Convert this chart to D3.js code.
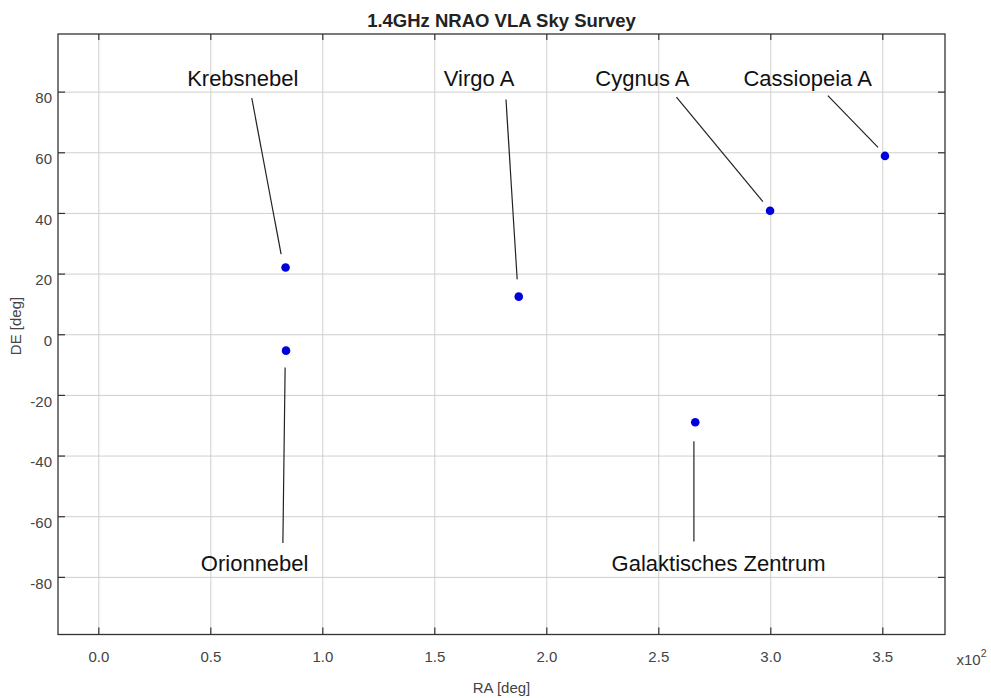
<!DOCTYPE html>
<html>
<head>
<meta charset="utf-8">
<script src="https://cdn.jsdelivr.net/npm/d3@7"></script>
<style>
  html, body { margin: 0; padding: 0; background: #fff; }
  svg { display: block; font-family: "Liberation Sans", Arial, sans-serif; }
</style>
</head>
<body>
<svg id="chart" width="991" height="698"></svg>
<script>
// ---- data ----
const titleText = "1.4GHz NRAO VLA Sky Survey";
const xLabel = "RA [deg]";
const yLabel = "DE [deg]";
const raDomain = [-18, 378];
const deDomain = [-99, 99];
const raTicks = [0, 50, 100, 150, 200, 250, 300, 350];
const deTicks = [-80, -60, -40, -20, 0, 20, 40, 60, 80];

const sources = ["Krebsnebel", "Orionnebel", "Virgo A", "Cygnus A", "Cassiopeia A", "Galaktisches Zentrum"];
const ra = [83.6, 83.8, 187.7, 299.9, 351.2, 266.5];
const de = [22.0, -5.4, 12.4, 40.7, 58.8, -29.0];

// annotation placement (data coordinates)
const labelRA = [64.5, 69.8, 170.0, 242.9, 316.7, 276.9];
const labelDE = [81.9, -78.2, 81.9, 81.9, 81.9, -78.2];
const leadStartRA = [68.5, 82.4, 182.0, 258.1, 325.7, 265.9];
const leadStartDE = [77.9, -68.8, 77.4, 78.2, 78.7, -68.3];
const leadEndRA = [81.6, 83.4, 187.0, 296.7, 348.1, 265.9];
const leadEndDE = [26.4, -11.0, 18.1, 43.7, 61.6, -35.3];

// ---- layout ----
const svg = d3.select("#chart");
const W = 991, H = 698;
const plot = { left: 58, right: 945, top: 34, bottom: 634.5 };
const pw = plot.right - plot.left, ph = plot.bottom - plot.top;

svg.append("rect").attr("width", W).attr("height", H).attr("fill", "#fff");

const x = d3.scaleLinear().domain(raDomain).range([plot.left, plot.right]);
const y = d3.scaleLinear().domain(deDomain).range([plot.bottom, plot.top]);

// grid
const grid = svg.append("g");
grid.append("g")
  .attr("transform", `translate(0,${plot.bottom})`)
  .call(d3.axisBottom(x).tickValues(raTicks).tickSize(-ph).tickFormat(""))
  .call(g => g.select(".domain").remove())
  .call(g => g.selectAll("line").attr("stroke", "#cfcfcf").attr("stroke-width", 1));
grid.append("g")
  .attr("transform", `translate(${plot.left},0)`)
  .call(d3.axisLeft(y).tickValues(deTicks).tickSize(-pw).tickFormat(""))
  .call(g => g.select(".domain").remove())
  .call(g => g.selectAll("line").attr("stroke", "#cfcfcf").attr("stroke-width", 1));

// leader lines
const idx = d3.range(sources.length);
svg.append("g").selectAll("line").data(idx).join("line")
  .attr("x1", i => x(leadStartRA[i])).attr("y1", i => y(leadStartDE[i]))
  .attr("x2", i => x(leadEndRA[i])).attr("y2", i => y(leadEndDE[i]))
  .attr("stroke", "#222").attr("stroke-width", 1.2);

// points
svg.append("g").selectAll("circle").data(idx).join("circle")
  .attr("cx", i => x(ra[i])).attr("cy", i => y(de[i]))
  .attr("r", 4.3).attr("fill", "#0000dc");

// labels
svg.append("g").selectAll("text").data(idx).join("text")
  .attr("x", i => x(labelRA[i])).attr("y", i => y(labelDE[i]))
  .attr("text-anchor", "middle")
  .attr("font-size", 22).attr("fill", "#111")
  .text(i => sources[i]);

// axes with inward ticks
const tickCol = "#333";
const fmtX = d => (d / 100).toFixed(1);
const fmtY = d => String(d);
svg.append("g")
  .attr("transform", `translate(0,${plot.bottom})`)
  .call(d3.axisBottom(x).tickValues(raTicks).tickSize(-7).tickPadding(16.4).tickFormat(fmtX))
  .call(g => g.select(".domain").remove())
  .call(g => g.selectAll("line").attr("stroke", tickCol).attr("stroke-width", 1.2))
  .call(g => g.selectAll("text").attr("font-size", 15).attr("fill", "#444").attr("font-family", null));
svg.append("g")
  .attr("transform", `translate(0,${plot.top})`)
  .call(d3.axisTop(x).tickValues(raTicks).tickSize(-6).tickFormat(""))
  .call(g => g.select(".domain").remove())
  .call(g => g.selectAll("line").attr("stroke", tickCol).attr("stroke-width", 1.2));
svg.append("g")
  .attr("transform", `translate(${plot.left},0)`)
  .call(d3.axisLeft(y).tickValues(deTicks).tickSize(-7).tickPadding(6).tickFormat(fmtY))
  .call(g => g.select(".domain").remove())
  .call(g => g.selectAll("line").attr("stroke", tickCol).attr("stroke-width", 1.2))
  .call(g => g.selectAll("text").attr("dy", "0.75em").attr("font-size", 15).attr("fill", "#444").attr("font-family", null));
svg.append("g")
  .attr("transform", `translate(${plot.right},0)`)
  .call(d3.axisRight(y).tickValues(deTicks).tickSize(-7).tickFormat(""))
  .call(g => g.select(".domain").remove())
  .call(g => g.selectAll("line").attr("stroke", tickCol).attr("stroke-width", 1.2));

// frame
svg.append("rect")
  .attr("x", plot.left).attr("y", plot.top).attr("width", pw).attr("height", ph)
  .attr("fill", "none").attr("stroke", "#333").attr("stroke-width", 1.3);

// title
svg.append("text")
  .attr("x", (plot.left + plot.right) / 2).attr("y", 26.5)
  .attr("text-anchor", "middle").attr("font-size", 18.5).attr("font-weight", "bold").attr("fill", "#222")
  .text(titleText);

// axis labels
svg.append("text")
  .attr("x", (plot.left + plot.right) / 2).attr("y", 693)
  .attr("text-anchor", "middle").attr("font-size", 15).attr("fill", "#444")
  .text(xLabel);
svg.append("text")
  .attr("transform", `translate(21,326) rotate(-90)`)
  .attr("text-anchor", "middle").attr("font-size", 15).attr("fill", "#444")
  .text(yLabel);

// exponent
const ex = svg.append("text").attr("x", 956.5).attr("y", 665).attr("font-size", 15).attr("fill", "#444");
ex.append("tspan").text("x10");
ex.append("tspan").attr("font-size", 10.5).attr("dy", -8.5).text("2");
</script>
</body>
</html>
